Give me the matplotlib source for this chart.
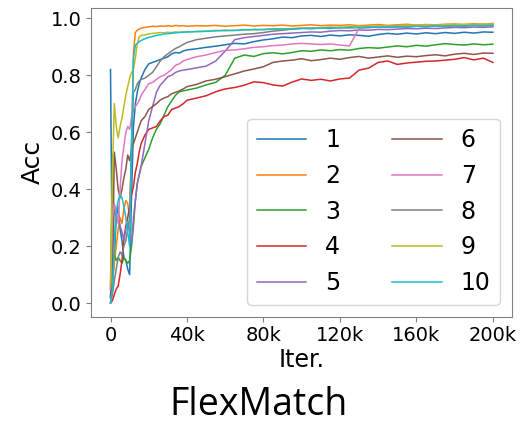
import matplotlib

matplotlib.use("Agg")

import matplotlib.pyplot as plt
from matplotlib.ticker import FuncFormatter

# iteration checkpoints, in thousands
iters_k = [0, 1, 2, 3, 4, 5, 6, 7, 8, 9, 10, 11, 12, 13, 14, 15, 16,
           18, 20, 22, 24, 26, 28, 30, 32, 34, 36, 38, 40,
           45, 50, 55, 60, 65, 70, 75, 80, 85, 90, 95, 100, 105, 110, 115, 120,
           125, 130, 135, 140, 145, 150, 155, 160, 165, 170, 175, 180, 185, 190, 195, 200]

acc_1 = [0.82, 0.06, 0.16, 0.30, 0.34, 0.26, 0.22, 0.16, 0.15, 0.12, 0.10, 0.38, 0.62, 0.70, 0.74, 0.77, 0.79,
         0.82, 0.84, 0.845, 0.85, 0.855, 0.86, 0.865, 0.875, 0.88, 0.878, 0.885, 0.889,
         0.893, 0.898, 0.902, 0.907, 0.912, 0.910, 0.918, 0.924, 0.928, 0.934, 0.932, 0.938, 0.940, 0.936, 0.941, 0.938,
         0.942, 0.940, 0.937, 0.943, 0.947, 0.944, 0.948, 0.945, 0.949, 0.946, 0.950, 0.947, 0.951, 0.948, 0.952, 0.951]
acc_2 = [0.0, 0.08, 0.14, 0.20, 0.26, 0.30, 0.28, 0.33, 0.36, 0.35, 0.30, 0.55, 0.88, 0.95, 0.958, 0.962, 0.965,
         0.968, 0.970, 0.972, 0.971, 0.973, 0.972, 0.974, 0.972, 0.975, 0.973, 0.974, 0.972,
         0.974, 0.973, 0.975, 0.972, 0.974, 0.976, 0.973, 0.975, 0.974, 0.976, 0.973, 0.975, 0.977, 0.974, 0.976, 0.975,
         0.977, 0.974, 0.976, 0.978, 0.975, 0.977, 0.979, 0.976, 0.978, 0.977, 0.979, 0.980, 0.978, 0.981, 0.979, 0.982]
acc_3 = [0.05, 0.52, 0.17, 0.15, 0.16, 0.15, 0.14, 0.16, 0.15, 0.14, 0.15, 0.20, 0.27, 0.36, 0.42, 0.45, 0.48,
         0.51, 0.54, 0.58, 0.61, 0.63, 0.66, 0.69, 0.71, 0.73, 0.742, 0.745, 0.748,
         0.755, 0.766, 0.775, 0.800, 0.860, 0.871, 0.866, 0.876, 0.879, 0.875, 0.880, 0.886, 0.884, 0.889, 0.886, 0.890,
         0.888, 0.894, 0.897, 0.895, 0.899, 0.903, 0.900, 0.905, 0.902, 0.907, 0.911, 0.908, 0.906, 0.910, 0.907, 0.909]
acc_4 = [0.0, 0.01, 0.03, 0.05, 0.06, 0.10, 0.15, 0.23, 0.27, 0.30, 0.34, 0.38, 0.41, 0.46, 0.49, 0.53, 0.56,
         0.59, 0.61, 0.615, 0.62, 0.64, 0.655, 0.66, 0.68, 0.685, 0.69, 0.70, 0.712,
         0.72, 0.728, 0.742, 0.752, 0.757, 0.765, 0.777, 0.774, 0.766, 0.762, 0.776, 0.787, 0.782, 0.786, 0.780, 0.787,
         0.790, 0.818, 0.825, 0.845, 0.850, 0.838, 0.843, 0.846, 0.849, 0.850, 0.853, 0.856, 0.862, 0.854, 0.860, 0.845]
acc_5 = [0.02, 0.25, 0.33, 0.30, 0.30, 0.27, 0.25, 0.22, 0.26, 0.28, 0.25, 0.21, 0.30, 0.36, 0.42, 0.45, 0.48,
         0.56, 0.64, 0.69, 0.74, 0.765, 0.78, 0.795, 0.80, 0.81, 0.815, 0.818, 0.82,
         0.826, 0.832, 0.850, 0.885, 0.925, 0.932, 0.936, 0.940, 0.944, 0.946, 0.948, 0.950, 0.952, 0.951, 0.955, 0.957,
         0.956, 0.959, 0.958, 0.961, 0.960, 0.962, 0.964, 0.963, 0.965, 0.964, 0.966, 0.968, 0.967, 0.969, 0.968, 0.970]
acc_6 = [0.02, 0.10, 0.53, 0.47, 0.40, 0.37, 0.40, 0.44, 0.47, 0.52, 0.50, 0.54, 0.56, 0.58, 0.60, 0.62, 0.64,
         0.655, 0.68, 0.69, 0.70, 0.713, 0.72, 0.725, 0.735, 0.74, 0.745, 0.752, 0.76,
         0.768, 0.780, 0.786, 0.795, 0.805, 0.815, 0.822, 0.830, 0.845, 0.850, 0.853, 0.858, 0.851, 0.855, 0.860, 0.856,
         0.862, 0.866, 0.860, 0.864, 0.868, 0.863, 0.867, 0.865, 0.869, 0.872, 0.868, 0.874, 0.877, 0.873, 0.878, 0.877]
acc_7 = [0.05, 0.30, 0.35, 0.32, 0.28, 0.40, 0.50, 0.55, 0.60, 0.62, 0.61, 0.65, 0.68, 0.69, 0.70, 0.71, 0.73,
         0.75, 0.77, 0.775, 0.785, 0.795, 0.80, 0.81, 0.82, 0.835, 0.84, 0.85, 0.855,
         0.865, 0.871, 0.880, 0.887, 0.889, 0.893, 0.898, 0.900, 0.904, 0.906, 0.910, 0.912, 0.910, 0.908, 0.910, 0.906,
         0.903, 0.965, 0.968, 0.970, 0.972, 0.969, 0.973, 0.975, 0.972, 0.976, 0.974, 0.977, 0.975, 0.978, 0.976, 0.978]
acc_8 = [0.0, 0.03, 0.08, 0.12, 0.16, 0.18, 0.17, 0.20, 0.22, 0.26, 0.30, 0.56, 0.74, 0.75, 0.77, 0.78, 0.785,
         0.79, 0.80, 0.81, 0.83, 0.85, 0.865, 0.875, 0.885, 0.894, 0.90, 0.908, 0.915,
         0.925, 0.930, 0.935, 0.938, 0.941, 0.944, 0.946, 0.950, 0.955, 0.958, 0.962, 0.965, 0.963, 0.966, 0.964, 0.968,
         0.966, 0.969, 0.967, 0.970, 0.968, 0.971, 0.969, 0.972, 0.970, 0.973, 0.971, 0.974, 0.972, 0.975, 0.973, 0.975]
acc_9 = [0.06, 0.45, 0.70, 0.62, 0.58, 0.62, 0.65, 0.69, 0.73, 0.76, 0.79, 0.81, 0.82, 0.86, 0.91, 0.935, 0.94,
         0.942, 0.945, 0.947, 0.948, 0.950, 0.949, 0.951, 0.950, 0.952, 0.951, 0.953, 0.952,
         0.954, 0.955, 0.957, 0.956, 0.958, 0.960, 0.959, 0.961, 0.963, 0.962, 0.964, 0.966, 0.965, 0.967, 0.969, 0.968,
         0.970, 0.972, 0.971, 0.973, 0.972, 0.974, 0.976, 0.975, 0.977, 0.976, 0.978, 0.977, 0.979, 0.978, 0.980, 0.979]
acc_10 = [0.0, 0.05, 0.20, 0.32, 0.36, 0.38, 0.37, 0.34, 0.30, 0.25, 0.20, 0.55, 0.86, 0.905, 0.912, 0.918, 0.922,
          0.928, 0.933, 0.936, 0.940, 0.942, 0.945, 0.946, 0.947, 0.949, 0.950, 0.951, 0.952,
          0.953, 0.954, 0.956, 0.958, 0.957, 0.959, 0.961, 0.960, 0.962, 0.963, 0.962, 0.964, 0.966, 0.965, 0.967, 0.966,
          0.968, 0.967, 0.969, 0.970, 0.969, 0.971, 0.970, 0.972, 0.971, 0.973, 0.972, 0.974, 0.973, 0.975, 0.974, 0.976]

series = [acc_1, acc_2, acc_3, acc_4, acc_5, acc_6, acc_7, acc_8, acc_9, acc_10]
labels = ["1", "2", "3", "4", "5", "6", "7", "8", "9", "10"]
x_ticks = [0, 40000, 80000, 120000, 160000, 200000]

iters = [k * 1000 for k in iters_k]

fig = plt.figure(figsize=(5.31, 4.26), dpi=100)
ax = fig.add_axes([0.1714, 0.257, 0.9642 - 0.1714, 0.9805 - 0.257])

for values, label in zip(series, labels):
    ax.plot(iters, values, linewidth=1.1, label=label)

ax.set_xlim(-10200, 210000)
ax.set_ylim(-0.047, 1.035)
ax.set_xticks(x_ticks)
ax.xaxis.set_major_formatter(FuncFormatter(lambda v, _: "0" if v == 0 else f"{int(v / 1000)}k"))
ax.set_yticks([0.0, 0.2, 0.4, 0.6, 0.8, 1.0])
ax.tick_params(labelsize=14, color="#808080")
for spine in ax.spines.values():
    spine.set_color("#808080")

ax.set_xlabel("Iter.", fontsize=17, labelpad=2)
ax.set_ylabel("Acc", fontsize=18)

# legend text is a bit larger than the tick labels in the original
ax.legend(loc="lower right", ncol=2, fontsize=17, handlelength=2.1, columnspacing=2.2)

fig.text(0.487, 0.026, "FlexMatch", ha="center", va="baseline", fontsize=27, family="Open Sans")

fig.savefig("out.png", dpi=100)
plt.close(fig)
